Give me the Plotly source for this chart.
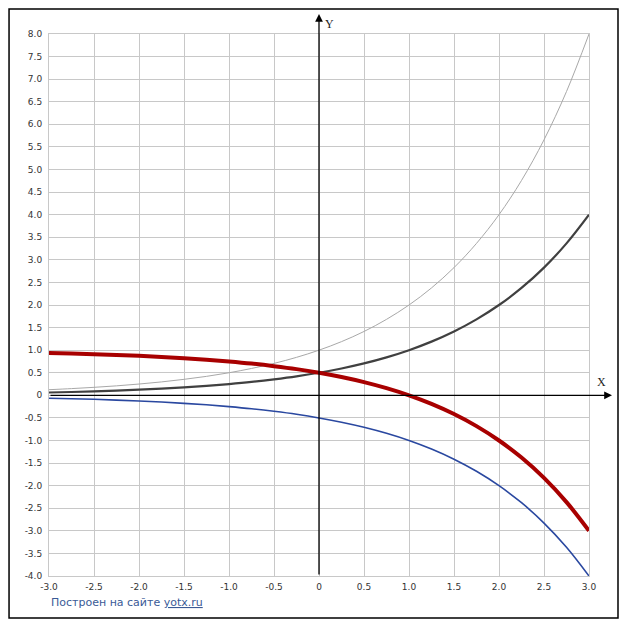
import plotly.graph_objs as go

# Values at x step 0.25
x_vals = [-3.0, -2.75, -2.5, -2.25, -2.0, -1.75, -1.5, -1.25, -1.0, -0.75, -0.5, -0.25,
          0.0, 0.25, 0.5, 0.75, 1.0, 1.25, 1.5, 1.75, 2.0, 2.25, 2.5, 2.75, 3.0]
light_gray = [0.125, 0.149, 0.177, 0.210, 0.250, 0.297, 0.354, 0.420, 0.500, 0.595, 0.707, 0.841,
              1.000, 1.189, 1.414, 1.682, 2.000, 2.378, 2.828, 3.364, 4.000, 4.757, 5.657, 6.727, 8.000]
dark_gray = [0.063, 0.074, 0.088, 0.105, 0.125, 0.149, 0.177, 0.210, 0.250, 0.297, 0.354, 0.420,
             0.500, 0.595, 0.707, 0.841, 1.000, 1.189, 1.414, 1.682, 2.000, 2.378, 2.828, 3.364, 4.000]
red_curve = [0.937, 0.926, 0.912, 0.895, 0.875, 0.851, 0.823, 0.790, 0.750, 0.703, 0.646, 0.580,
             0.500, 0.405, 0.293, 0.159, 0.000, -0.189, -0.414, -0.682, -1.000, -1.378, -1.828, -2.364, -3.000]
blue_curve = [-0.063, -0.074, -0.088, -0.105, -0.125, -0.149, -0.177, -0.210, -0.250, -0.297, -0.354, -0.420,
              -0.500, -0.595, -0.707, -0.841, -1.000, -1.189, -1.414, -1.682, -2.000, -2.378, -2.828, -3.364, -4.000]

x_ticks = [-3.0, -2.5, -2.0, -1.5, -1.0, -0.5, 0.0, 0.5, 1.0, 1.5, 2.0, 2.5, 3.0]
x_labels = ["-3.0", "-2.5", "-2.0", "-1.5", "-1.0", "-0.5", "0", "0.5", "1.0", "1.5", "2.0", "2.5", "3.0"]
y_ticks = [-4.0, -3.5, -3.0, -2.5, -2.0, -1.5, -1.0, -0.5, 0.0, 0.5, 1.0, 1.5, 2.0, 2.5,
           3.0, 3.5, 4.0, 4.5, 5.0, 5.5, 6.0, 6.5, 7.0, 7.5, 8.0]
y_labels = ["0" if v == 0 else f"{v:.1f}" for v in y_ticks]

fig = go.Figure()
fig.add_trace(go.Scatter(x=x_vals, y=light_gray, mode='lines', line=dict(color='#a8a8a8', width=1, shape='spline')))
fig.add_trace(go.Scatter(x=x_vals, y=dark_gray, mode='lines', line=dict(color='#404040', width=2.2, shape='spline')))
fig.add_trace(go.Scatter(x=x_vals, y=blue_curve, mode='lines', line=dict(color='#2a48a0', width=1.6, shape='spline')))
fig.add_trace(go.Scatter(x=x_vals, y=red_curve, mode='lines', line=dict(color='#a80000', width=4, shape='spline')))

tick_font = dict(family="Verdana, DejaVu Sans", size=9, color='#333333')

# page body adds an 8px offset, so the figure is a bit smaller than the window
fig.update_layout(
    width=619, height=622,
    margin=dict(l=41, r=38, t=26, b=54),
    paper_bgcolor='white', plot_bgcolor='white',
    showlegend=False,
    xaxis=dict(range=[-3, 3], tickvals=x_ticks, ticktext=x_labels, tickfont=tick_font,
               showgrid=True, gridcolor='#c8c8c8', gridwidth=1, zeroline=False,
               showline=True, linecolor='#c8c8c8', mirror=True, ticks='', ticklabelstandoff=2),
    yaxis=dict(range=[-4, 8], tickvals=y_ticks, ticktext=y_labels, tickfont=tick_font,
               showgrid=True, gridcolor='#c8c8c8', gridwidth=1, zeroline=False,
               showline=True, linecolor='#c8c8c8', mirror=True, ticks='', ticklabelstandoff=4),
    shapes=[
        dict(type='rect', xref='paper', yref='paper', x0=-0.074, x1=1.0537, y0=-0.0775, y1=1.046,
             line=dict(color='black', width=1.5)),
    ],
    annotations=[
        # Y axis with arrow
        dict(xref='x', yref='paper', x=0, y=1.037, ax=0, ay=562, axref='pixel', ayref='pixel',
             showarrow=True, arrowhead=2, arrowsize=1.2, arrowwidth=1.3, arrowcolor='black', text=''),
        # X axis with arrow
        dict(xref='paper', yref='y', x=1.0426, y=0, ax=-563, ay=0, axref='pixel', ayref='pixel',
             showarrow=True, arrowhead=2, arrowsize=1.2, arrowwidth=1.3, arrowcolor='black', text=''),
        dict(xref='x', yref='paper', x=0.12, y=1.035, text='Y', showarrow=False,
             font=dict(family='Times New Roman, Liberation Serif', size=12, color='#222222')),
        dict(xref='paper', yref='y', x=1.035, y=0.3, text='X', showarrow=False,
             font=dict(family='Times New Roman, Liberation Serif', size=12, color='#222222')),
        dict(xref='paper', yref='paper', x=0.0, y=-0.048, xanchor='left', yanchor='middle',
             text="Построен на сайте <span style='text-decoration:underline'>yotx.ru</span>",
             showarrow=False, font=dict(family='Tahoma, DejaVu Sans', size=11, color='#3a5a96')),
    ],
)

fig.write_html("out.html")
